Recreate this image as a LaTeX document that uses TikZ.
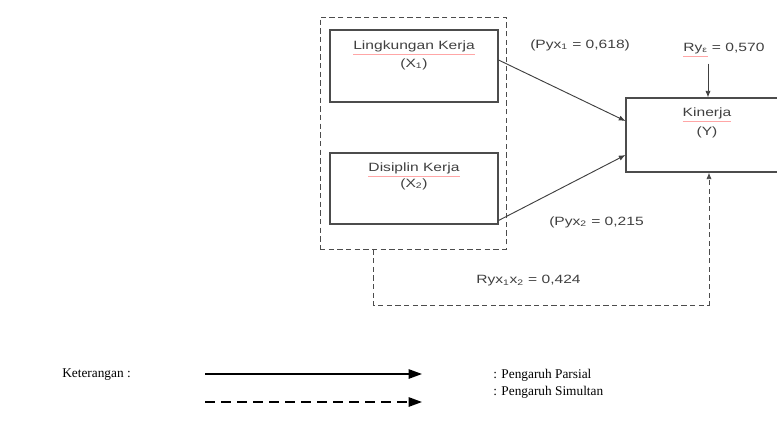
\documentclass[tikz,border=0pt]{standalone}
\usepackage{fontspec}
\setmainfont{Liberation Serif}
\newfontfamily\diagfont[FakeStretch=1.3]{Liberation Sans}
\usetikzlibrary{arrows.meta}
% garis merah di bawah kata
\newcommand{\spl}[1]{\textcolor{red!35}{\underline{\textcolor{black!75}{#1}}}}

\begin{document}
\begin{tikzpicture}[x=0.75pt, y=-0.75pt,
    box/.style={draw=black!70, line width=0.8pt, rectangle, inner sep=0pt},
    lbl/.style={font=\diagfont\fontsize{9}{11}\selectfont, text=black!75, inner sep=0pt},
    arr/.style={draw=black!75, line width=0.7pt, -{Latex[length=5pt,width=4pt]}},
    dsh/.style={draw=black!70, line width=0.7pt, dash pattern=on 4pt off 2.5pt},
    leg/.style={font=\fontsize{10}{12}\selectfont, inner sep=0pt, anchor=west}]
    \useasboundingbox (0,0) rectangle (777,424);

    % Kotak variabel
    \node[box, dsh, minimum width=139.5pt, minimum height=174pt] (grp) at (413,133) {};
    \node[box, minimum width=126pt, minimum height=54pt] (x1) at (414,66) {};
    \node[box, minimum width=126pt, minimum height=53.25pt] (x2) at (414,188.5) {};
    \node[box, minimum width=123pt, minimum height=55.5pt] (ky) at (708,135) {};

    \node[lbl] (x1a) at (414,48) {\spl{Lingkungan Kerja}};
    \node[lbl] (x1b) at (414,64) {(X\textsubscript{1})};
    \node[lbl] (x2a) at (414,170) {\spl{Disiplin Kerja}};
    \node[lbl] (x2b) at (414,184) {(X\textsubscript{2})};
    \node[lbl] (kya) at (707,115) {\spl{Kinerja}};
    \node[lbl] (kyb) at (707,132) {(Y)};

    % Koefisien
    \node[lbl, anchor=west] (p1) at (530,45) {(Pyx\textsubscript{1} = 0,618)};
    \node[lbl, anchor=west] (p2) at (549,222) {(Pyx\textsubscript{2} = 0,215};
    \node[lbl, anchor=west] (r12) at (476,281) {Ryx\textsubscript{1}x\textsubscript{2} = 0,424};
    \node[lbl, anchor=west] (re) at (683,50) {\spl{Ry\textsubscript{ε}} = 0,570};

    % Panah
    \draw[arr] ([yshift=4.5pt]x1.east) -- ([yshift=10.5pt]ky.west);
    \draw[arr] ([yshift=-24pt]x2.east) -- ([yshift=-15pt]ky.west);
    \draw[arr, shorten <=5pt] (re.south -| ky.north) -- (ky.north);

    \coordinate (c1) at (373,305);
    \coordinate (c2) at (709,305);
    \draw[dsh, -{Latex[length=5pt,width=4pt]}] (grp.south -| c1) -- (c1) -- (c2) -- (ky.south -| c2);

    % Keterangan
    \node[leg] (ket) at (62,375) {Keterangan :};
    \coordinate (s1) at (205,374);
    \coordinate (e1) at (422,374);
    \coordinate (s2) at (205,402);
    \coordinate (e2) at (422,402);
    \draw[line width=1.2pt, -{Triangle[length=10pt,width=7pt]}] (s1) -- (e1);
    \draw[line width=1.2pt, dash pattern=on 7.5pt off 4.5pt, -{Triangle[length=10pt,width=7pt]}] (s2) -- (e2);
    \node[leg] (pp) at (493,375) {: Pengaruh Parsial};
    \node[leg] (ps) at (493,392) {: Pengaruh Simultan};
\end{tikzpicture}
\end{document}
